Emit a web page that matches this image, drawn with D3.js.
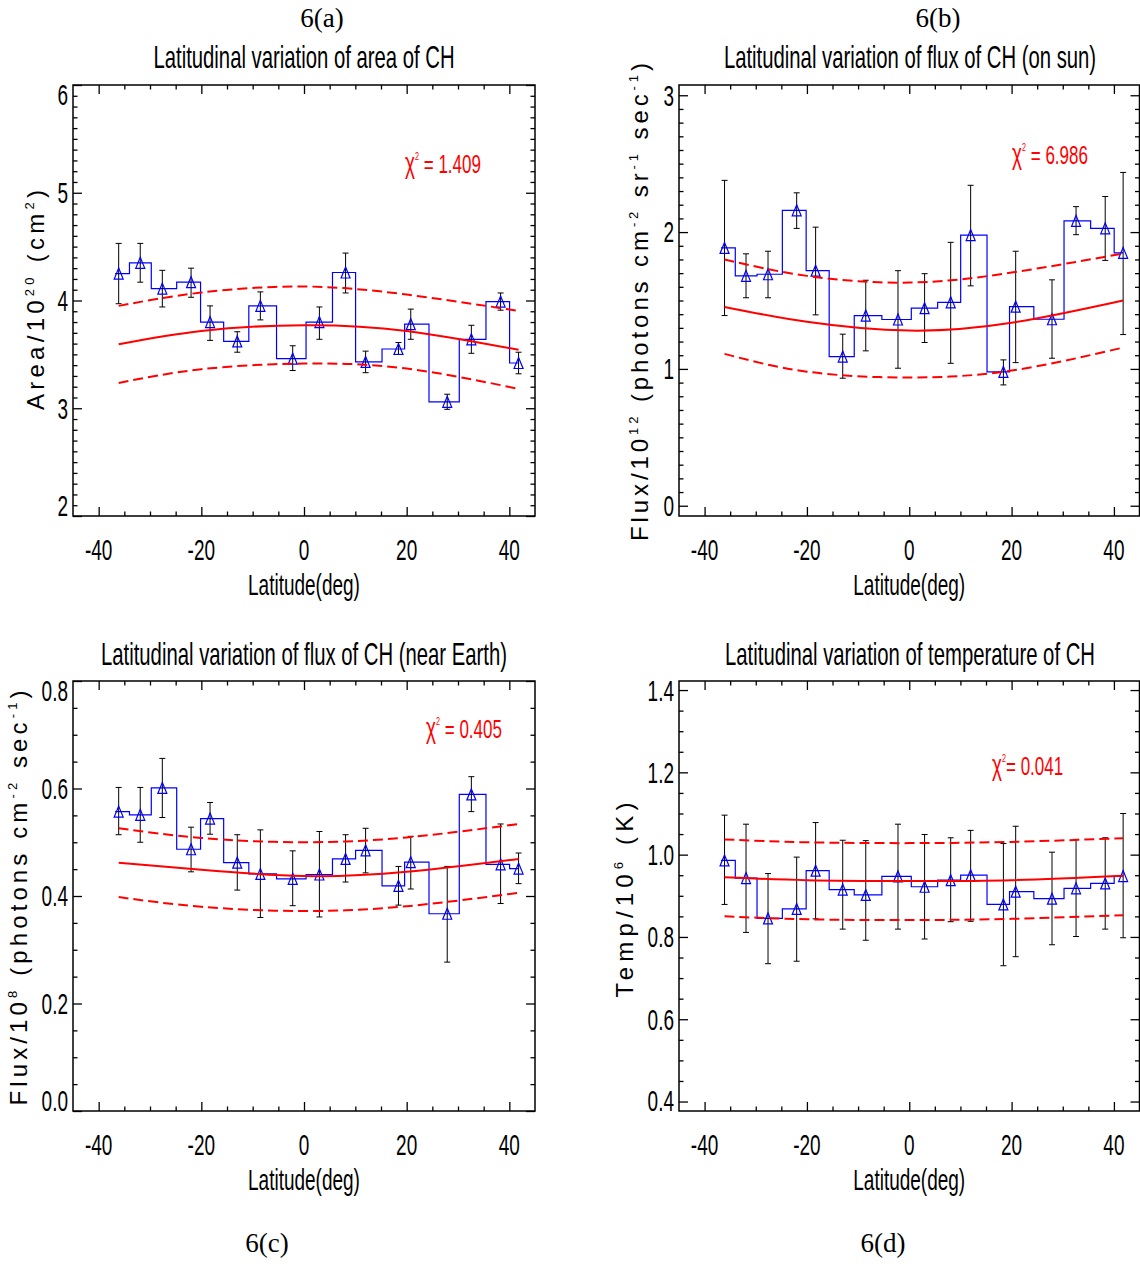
<!DOCTYPE html>
<html>
<head>
<meta charset="utf-8">
<title>Latitudinal variation of CH</title>
<script src="https://cdn.jsdelivr.net/npm/d3@7"></script>
<style>
  body { margin: 0; background: #fff; }
  svg { display: block; }
  text { font-family: "Liberation Sans", Arial, sans-serif; fill: #000; }
  .fig-label { font-family: "Liberation Serif", "Times New Roman", serif; font-size: 27px; }
  .tick line { stroke: #000; stroke-width: 1.3px; }
</style>
</head>
<body>
<svg id="chart" width="1140" height="1264"></svg>
<script>
// latitude of each bin (deg), shared by all four panels
const latitude = [-36.1, -31.9, -27.6, -22.0, -18.3, -13.0, -8.5, -2.2, 3.0, 8.1, 12.0, 18.4, 20.8, 27.9, 32.6, 38.3, 41.8];

// 6(a) area, 10^20 cm^2
const areaValue = [4.25, 4.35, 4.11, 4.17, 3.80, 3.62, 3.95, 3.46, 3.80, 4.26, 3.43, 3.55, 3.78, 3.06, 3.64, 3.99, 3.42];
const areaHigh  = [4.53, 4.53, 4.28, 4.30, 3.95, 3.71, 4.08, 3.58, 3.94, 4.44, 3.53, 3.61, 3.92, 3.13, 3.77, 4.07, 3.52];
const areaLow   = [3.97, 4.17, 3.94, 4.03, 3.63, 3.52, 3.82, 3.35, 3.64, 4.07, 3.33, 3.50, 3.64, 2.99, 3.51, 3.91, 3.32];

// 6(b) flux on sun, 10^12 photons cm^-2 sr^-1 sec^-1
const sunValue = [1.884, 1.680, 1.692, 2.159, 1.718, 1.090, 1.390, 1.361, 1.444, 1.487, 1.978, 0.978, 1.455, 1.363, 2.082, 2.027, 1.848];
const sunHigh  = [2.378, 1.841, 1.860, 2.287, 2.036, 1.254, 1.648, 1.718, 1.696, 1.925, 2.342, 1.066, 1.860, 1.651, 2.186, 2.260, 2.436];
const sunLow   = [1.390, 1.520, 1.520, 2.027, 1.395, 0.932, 1.132, 1.005, 1.193, 1.041, 1.607, 0.883, 1.046, 1.078, 1.981, 1.793, 1.251];

// 6(c) flux near Earth, 10^8 photons cm^-2 sec^-1
const earthValue = [0.557, 0.551, 0.601, 0.487, 0.544, 0.462, 0.441, 0.432, 0.440, 0.469, 0.485, 0.419, 0.463, 0.367, 0.589, 0.459, 0.451];
const earthHigh  = [0.602, 0.602, 0.656, 0.528, 0.574, 0.514, 0.523, 0.484, 0.520, 0.514, 0.526, 0.455, 0.511, 0.455, 0.622, 0.534, 0.480];
const earthLow   = [0.514, 0.500, 0.546, 0.445, 0.515, 0.411, 0.360, 0.382, 0.361, 0.426, 0.443, 0.383, 0.413, 0.277, 0.557, 0.386, 0.423];

// 6(d) temperature, 10^6 K
const tempValue = [0.986, 0.943, 0.845, 0.868, 0.961, 0.915, 0.902, 0.947, 0.922, 0.938, 0.950, 0.879, 0.910, 0.893, 0.918, 0.930, 0.948];
const tempHigh  = [1.096, 1.074, 0.954, 0.994, 1.078, 1.035, 1.034, 1.074, 1.049, 1.041, 1.059, 1.027, 1.069, 1.006, 1.037, 1.041, 1.100];
const tempLow   = [0.879, 0.811, 0.735, 0.741, 0.844, 0.819, 0.792, 0.819, 0.795, 0.837, 0.838, 0.730, 0.752, 0.781, 0.801, 0.819, 0.798];

// fitted curves (solid) and their bands (dashed), read at these latitudes
const fitLatitude = [-36.1, -20, 0, 20, 41.8];
const areaFit      = [3.594, 3.718, 3.771, 3.718, 3.542];
const areaFitHigh  = [3.950, 4.074, 4.130, 4.055, 3.904];
const areaFitLow   = [3.235, 3.362, 3.415, 3.368, 3.180];
const sunFit       = [1.453, 1.344, 1.280, 1.337, 1.500];
const sunFitHigh   = [1.800, 1.680, 1.631, 1.704, 1.843];
const sunFitLow    = [1.110, 0.980, 0.937, 0.988, 1.156];
const earthFit     = [0.462, 0.449, 0.437, 0.445, 0.469];
const earthFitHigh = [0.526, 0.508, 0.500, 0.509, 0.534];
const earthFitLow  = [0.398, 0.380, 0.372, 0.381, 0.406];
const tempFit      = [0.945, 0.938, 0.936, 0.938, 0.949];
const tempFitHigh  = [1.037, 1.030, 1.028, 1.031, 1.040];
const tempFitLow   = [0.850, 0.843, 0.841, 0.844, 0.853];

// axes
const xDomain = [-45, 45];
const xTicks = [-40, -20, 0, 20, 40];
const areaTicks = [2, 3, 4, 5, 6];
const sunTicks = [0, 1, 2, 3];
const earthTicks = [0, 0.2, 0.4, 0.6, 0.8];
const tempTicks = [0.4, 0.6, 0.8, 1.0, 1.2, 1.4];

const chiValues = ['1.409', '6.986', '0.405', '0.041'];
const figLabels = ['6(a)', '6(b)', '6(c)', '6(d)'];
const titles = [
    'Latitudinal variation of area of CH',
    'Latitudinal variation of flux of CH (on sun)',
    'Latitudinal variation of flux of CH (near Earth)',
    'Latitudinal variation of temperature of CH'
];
// pieces of the y titles, true marks a superscript
const yTitles = [
    [['Area/10'], ['20', true], [' (cm'], ['2', true], [')']],
    [['Flux/10'], ['12', true], [' (photons cm'], ['-2', true], [' sr'], ['-1', true], [' sec'], ['-1', true], [')']],
    [['Flux/10'], ['8', true], [' (photons cm'], ['-2', true], [' sec'], ['-1', true], [')']],
    [['Temp/10'], ['6', true], [' (K)']]
];

const NARROW = 0.655;   // horizontal squeeze of the IDL-style font
const svg = d3.select('#chart');

const panels = [
    {
        box: { left: 73, top: 85, right: 535, bottom: 516 },
        yDomain: [2, 6], yTicks: areaTicks, yMinor: 0.1, yFmt: d3.format('d'),
        value: areaValue, high: areaHigh, low: areaLow,
        fit: areaFit, fitHigh: areaFitHigh, fitLow: areaFitLow,
        chi: { x: 405, y: 173, eq: ' = ' },
        fig: { x: 322, y: 27 }, title: { x: 304, y: 68 },
        yTitle: { x: 44, y: 300, len: 220 }
    },
    {
        box: { left: 679, top: 85, right: 1139.5, bottom: 516 },
        yDomain: [-0.075, 3.075], yTicks: sunTicks, yMinor: 0.1, yFmt: d3.format('d'),
        value: sunValue, high: sunHigh, low: sunLow,
        fit: sunFit, fitHigh: sunFitHigh, fitLow: sunFitLow,
        chi: { x: 1012, y: 164, eq: ' = ' },
        fig: { x: 938, y: 27 }, title: { x: 910, y: 68 },
        yTitle: { x: 648, y: 302, len: 478 }
    },
    {
        box: { left: 73, top: 681, right: 535, bottom: 1111 },
        yDomain: [0, 0.8], yTicks: earthTicks, yMinor: 0.05, yFmt: d3.format('.1f'),
        value: earthValue, high: earthHigh, low: earthLow,
        fit: earthFit, fitHigh: earthFitHigh, fitLow: earthFitLow,
        chi: { x: 426, y: 738, eq: ' = ' },
        fig: { x: 267, y: 1252 }, title: { x: 304, y: 665 },
        yTitle: { x: 27, y: 898, len: 415 }
    },
    {
        box: { left: 679, top: 681, right: 1139.5, bottom: 1111 },
        yDomain: [0.377, 1.422], yTicks: tempTicks, yMinor: 0.05, yFmt: d3.format('.1f'),
        value: tempValue, high: tempHigh, low: tempLow,
        fit: tempFit, fitHigh: tempFitHigh, fitLow: tempFitLow,
        chi: { x: 992, y: 775, eq: '= ' },
        fig: { x: 883, y: 1252 }, title: { x: 910, y: 665 },
        yTitle: { x: 633, y: 900, len: 195 }
    }
];

function narrowText(parent, x, y, size, anchor) {
    return parent.append('text')
        .attr('transform', `translate(${x},${y}) scale(${NARROW},1)`)
        .attr('text-anchor', anchor)
        .style('font-size', size + 'px');
}

function minorValues(domain, step, majors) {
    let lo = Math.ceil(domain[0] / step - 1e-6);
    let hi = Math.floor(domain[1] / step + 1e-6);
    return d3.range(lo, hi + 1)
        .map(k => +(k * step).toFixed(6))
        .filter(v => v > domain[0] && v < domain[1] && !majors.some(m => Math.abs(m - v) < 1e-6));
}

function drawPanel(p, idx) {
    let box = p.box;
    let g = svg.append('g');
    let x = d3.scaleLinear().domain(xDomain).range([box.left, box.right]);
    let y = d3.scaleLinear().domain(p.yDomain).range([box.bottom, box.top]);

    // ticks on all four sides, pointing inward
    let xMinor = minorValues(xDomain, 5, xTicks);
    let yMinor = minorValues(p.yDomain, p.yMinor, p.yTicks);
    let sides = [
        [d3.axisBottom(x), `translate(0,${box.bottom})`, xTicks, xMinor],
        [d3.axisTop(x), `translate(0,${box.top})`, xTicks, xMinor],
        [d3.axisLeft(y), `translate(${box.left},0)`, p.yTicks, yMinor],
        [d3.axisRight(y), `translate(${box.right},0)`, p.yTicks, yMinor]
    ];
    sides.forEach(([axis, tr, major, minor]) => {
        [[major, -9], [minor, -4.5]].forEach(([vals, size]) => {
            g.append('g')
                .attr('transform', tr)
                .call(axis.tickValues(vals).tickSize(size).tickFormat(''))
                .call(a => a.select('.domain').remove());
        });
    });

    g.append('rect')
        .attr('x', box.left).attr('y', box.top)
        .attr('width', box.right - box.left).attr('height', box.bottom - box.top)
        .attr('fill', 'none').attr('stroke', '#000').attr('stroke-width', 1.5);

    // tick labels
    xTicks.forEach(t => {
        narrowText(g, x(t), box.bottom + 44, 29, 'middle').text(t);
    });
    p.yTicks.forEach(t => {
        let yy = Math.min(Math.max(y(t), box.top + 10), box.bottom - 10);
        narrowText(g, box.left - 5, yy + 10.4, 29, 'end').text(p.yFmt(t));
    });
    narrowText(g, x(0), box.bottom + 79, 29, 'middle').text('Latitude(deg)');

    // histogram-style step line through the bins
    let pts = d3.zip(latitude, p.value);
    let stepPts = [[latitude[0] - 0.7, p.value[0]], ...pts];
    g.append('path')
        .attr('d', d3.line().x(d => x(d[0])).y(d => y(d[1])).curve(d3.curveStep)(stepPts))
        .attr('fill', 'none').attr('stroke', '#0000ff').attr('stroke-width', 1.2);

    // error bars
    let err = g.append('g').attr('stroke', '#000').attr('stroke-width', 1);
    latitude.forEach((la, i) => {
        let cx = x(la), y1 = y(p.high[i]), y2 = y(p.low[i]);
        err.append('line').attr('x1', cx).attr('x2', cx).attr('y1', y1).attr('y2', y2);
        err.append('line').attr('x1', cx - 3).attr('x2', cx + 3).attr('y1', y1).attr('y2', y1);
        err.append('line').attr('x1', cx - 3).attr('x2', cx + 3).attr('y1', y2).attr('y2', y2);
    });

    // open triangles
    g.append('g').selectAll('path')
        .data(pts)
        .enter()
        .append('path')
        .attr('d', 'M0,-5.5L4.5,5.5L-4.5,5.5Z')
        .attr('transform', d => `translate(${x(d[0])},${y(d[1])})`)
        .attr('fill', 'none').attr('stroke', '#0000ff').attr('stroke-width', 1.2);

    // fit and band
    let fitLine = d3.line().x(d => x(d[0])).y(d => y(d[1])).curve(d3.curveNatural);
    [[p.fit, null], [p.fitHigh, '10,5'], [p.fitLow, '10,5']].forEach(([vals, dash]) => {
        g.append('path')
            .attr('d', fitLine(d3.zip(fitLatitude, vals)))
            .attr('fill', 'none').attr('stroke', '#ff0000').attr('stroke-width', 2)
            .attr('stroke-dasharray', dash);
    });

    // chi square
    let chi = narrowText(g, p.chi.x, p.chi.y, 26, 'start').style('fill', '#ff0000');
    chi.append('tspan').text('χ').style('fill', '#ff0000').style('font-size', '29px');
    chi.append('tspan').attr('dy', -13).style('font-size', '11px').style('fill', '#ff0000').text('2');
    chi.append('tspan').attr('dy', 13).style('fill', '#ff0000').text(p.chi.eq + chiValues[idx]);

    // titles
    narrowText(svg, p.title.x, p.title.y, 31, 'middle').text(titles[idx]);
    svg.append('text')
        .attr('class', 'fig-label')
        .attr('x', p.fig.x).attr('y', p.fig.y)
        .attr('text-anchor', 'middle')
        .text(figLabels[idx]);

    // rotated y title with superscripts
    let yt = svg.append('text')
        .attr('transform', `translate(${p.yTitle.x},${p.yTitle.y}) rotate(-90)`)
        .attr('text-anchor', 'middle')
        .attr('textLength', p.yTitle.len)
        .attr('lengthAdjust', 'spacing')
        .style('font-size', '24px');
    let raised = false;
    yTitles[idx].forEach(([s, sup]) => {
        let dy = sup ? (raised ? 0 : -10) : (raised ? 10 : 0);
        raised = !!sup;
        yt.append('tspan')
            .attr('dy', dy)
            .style('font-size', sup ? '13px' : null)
            .text(s);
    });
}

panels.forEach(drawPanel);
</script>
</body>
</html>
